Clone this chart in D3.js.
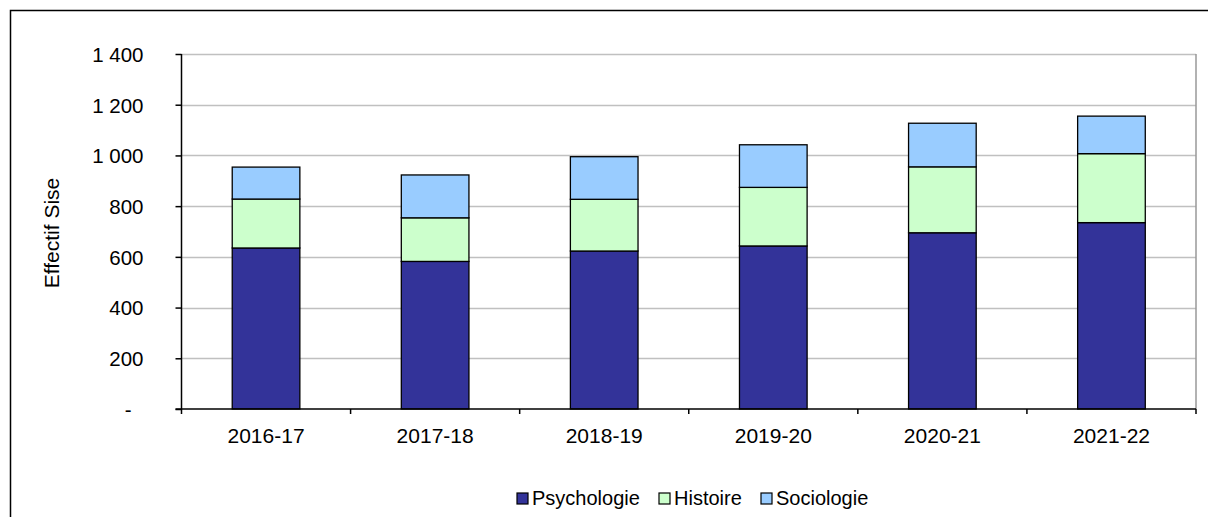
<!DOCTYPE html>
<meta charset="utf-8">
<head>
    <title>Effectif Sise</title>
    <script type="text/javascript" src="https://cdn.jsdelivr.net/npm/d3@7"></script>
    <style>
        body { margin: 0; background: #fff; }
        text { font-family: "Liberation Sans", Arial, sans-serif; fill: #000; }
    </style>
</head>
<body>
    <div id="chart"></div>
    <script>
        // data
        var years = ["2016-17", "2017-18", "2018-19", "2019-20", "2020-21", "2021-22"]
        var psychologie = [635, 582, 623, 643, 695, 735]
        var histoire = [193, 172, 204, 231, 260, 272]
        var sociologie = [126, 169, 168, 168, 172, 148]
        var seriesNames = ["Psychologie", "Histoire", "Sociologie"]
        var seriesColors = ["#333399", "#ccffcc", "#99ccff"]
        var yTicks = [0, 200, 400, 600, 800, 1000, 1200, 1400]

        var width = 1208, height = 517
        var plot = {left: 181.5, right: 1196, top: 54, bottom: 409}

        var svg = d3.select("#chart").append("svg")
          .attr("width", width)
          .attr("height", height)

        // outer frame (runs off the picture on right and bottom)
        svg.append("rect")
          .attr("x", 10.5).attr("y", 10.5)
          .attr("width", 1300).attr("height", 600)
          .attr("fill", "none").attr("stroke", "#000").attr("stroke-width", 1.5)

        var x = d3.scaleBand()
          .domain(years)
          .range([plot.left, plot.right])
          .paddingInner(0.6)
          .paddingOuter(0.3)

        var y = d3.scaleLinear()
          .domain([0, 1400])
          .range([plot.bottom, plot.top])

        // gridlines
        svg.append("g").selectAll("line")
          .data(yTicks.filter(function(d){ return d > 0 }))
          .enter().append("line")
            .attr("x1", plot.left).attr("x2", plot.right)
            .attr("y1", function(d){ return Math.round(y(d)) + 0.5 })
            .attr("y2", function(d){ return Math.round(y(d)) + 0.5 })
            .attr("stroke", "#c0c0c0").attr("stroke-width", 1.5)

        // plot area right border
        svg.append("line")
          .attr("x1", plot.right).attr("x2", plot.right)
          .attr("y1", plot.top).attr("y2", plot.bottom)
          .attr("stroke", "#999").attr("stroke-width", 1.5)

        // stacked bars
        var table = years.map(function(d, i){
          return {year: d, Psychologie: psychologie[i], Histoire: histoire[i], Sociologie: sociologie[i]}
        })
        var stacked = d3.stack().keys(seriesNames)(table)

        svg.append("g").selectAll("g")
          .data(stacked)
          .enter().append("g")
            .attr("fill", function(d, i){ return seriesColors[i] })
          .selectAll("rect")
          .data(function(d){ return d })
          .enter().append("rect")
            .attr("x", function(d){ return x(d.data.year) })
            .attr("width", x.bandwidth())
            .attr("y", function(d){ return y(d[1]) })
            .attr("height", function(d){ return y(d[0]) - y(d[1]) })
            .attr("stroke", "#000").attr("stroke-width", 1.3)

        // y axis
        var fmt = function(d){
          if (d === 0) return "-"
          return d3.format(",")(d).replace(",", " ")
        }
        var yAxis = svg.append("g")
          .attr("transform", "translate(" + plot.left + ",0)")
          .call(d3.axisLeft(y).tickValues(yTicks).tickSize(6).tickPadding(32).tickFormat(fmt))
        yAxis.selectAll("text").style("font-size", "20.5px")
          .attr("dy", "0.36em")
        yAxis.selectAll(".tick").filter(function(d){ return d === 0 })
          .select("text").attr("x", -50)
        yAxis.selectAll("line, path").attr("stroke", "#000").attr("stroke-width", 1.5)
        yAxis.select(".domain").attr("d", "M0," + plot.top + "V" + plot.bottom)

        // x axis baseline and boundary ticks
        var edges = years.map(function(d){ return x(d) - x.step() * 0.3 }).concat([plot.right])
        svg.append("line")
          .attr("x1", plot.left - 6).attr("x2", plot.right)
          .attr("y1", plot.bottom).attr("y2", plot.bottom)
          .attr("stroke", "#000").attr("stroke-width", 1.5)
        svg.append("g").selectAll("line")
          .data(edges)
          .enter().append("line")
            .attr("x1", function(d){ return d }).attr("x2", function(d){ return d })
            .attr("y1", plot.bottom).attr("y2", plot.bottom + 5)
            .attr("stroke", "#000").attr("stroke-width", 1.5)

        var xAxis = svg.append("g")
          .attr("transform", "translate(0," + plot.bottom + ")")
          .call(d3.axisBottom(x).tickSize(0).tickPadding(19))
        xAxis.select(".domain").remove()
        xAxis.selectAll("text").style("font-size", "21px")

        // y title
        svg.append("text")
          .attr("transform", "translate(59,233) rotate(-90)")
          .attr("text-anchor", "middle")
          .style("font-size", "21px")
          .text("Effectif Sise")

        // legend
        var legendX = [517, 659, 761]
        var legend = svg.append("g").selectAll("g")
          .data(seriesNames)
          .enter().append("g")
            .attr("transform", function(d, i){ return "translate(" + legendX[i] + ",493)" })
        legend.append("rect")
          .attr("width", 11).attr("height", 11)
          .attr("fill", function(d, i){ return seriesColors[i] })
          .attr("stroke", "#000").attr("stroke-width", 1.2)
        legend.append("text")
          .attr("x", 15).attr("y", 12)
          .style("font-size", "20px")
          .text(function(d){ return d })
    </script>
</body>
</html>
